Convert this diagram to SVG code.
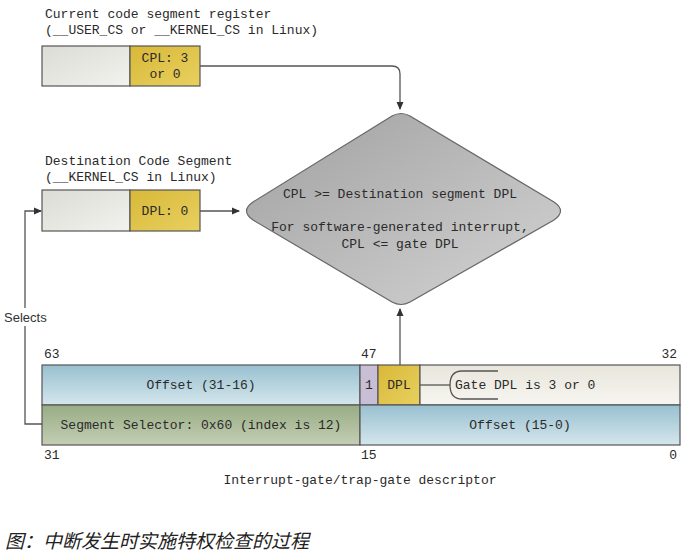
<svg xmlns="http://www.w3.org/2000/svg" width="686" height="560" viewBox="0 0 686 560">
<style>
.t{font-family:"Liberation Mono","DejaVu Sans Mono",monospace;font-size:13px;fill:#2a2a2a}
.c{text-anchor:middle}
.cell{stroke:#555;stroke-width:1.2}
.ln{fill:none;stroke:#555;stroke-width:1.3}
</style>
<defs>
<linearGradient id="gGray" x1="0" y1="0" x2="1" y2="1"><stop offset="0" stop-color="#dcdcd6"/><stop offset="1" stop-color="#f2f2ee"/></linearGradient>
<linearGradient id="gGold" x1="0" y1="0" x2="1" y2="1"><stop offset="0" stop-color="#d8b838"/><stop offset="1" stop-color="#e8d060"/></linearGradient>
<linearGradient id="gBlue" x1="0" y1="0" x2="0" y2="1"><stop offset="0" stop-color="#98c0d0"/><stop offset="1" stop-color="#d4e6ec"/></linearGradient>
<linearGradient id="gGreen" x1="0" y1="0" x2="0" y2="1"><stop offset="0" stop-color="#98ac84"/><stop offset="1" stop-color="#c4ceb4"/></linearGradient>
<linearGradient id="gBeige" x1="0" y1="0" x2="0" y2="1"><stop offset="0" stop-color="#e8e6dc"/><stop offset="1" stop-color="#f6f5f0"/></linearGradient>
<linearGradient id="gDia" x1="0" y1="0" x2="1" y2="1"><stop offset="0" stop-color="#a0a0a0"/><stop offset="1" stop-color="#d4d4d4"/></linearGradient>
<marker id="arr" markerWidth="8" markerHeight="8" refX="7" refY="4" orient="auto" markerUnits="userSpaceOnUse"><path d="M0,0.5 L8,4 L0,7.5 Z" fill="#333"/></marker>
</defs>

<g id="current-cs">
<text class="t" x="45" y="18">Current code segment register</text>
<text class="t" x="45" y="34">(__USER_CS or __KERNEL_CS in Linux)</text>
<rect class="cell" x="42" y="46" width="88" height="40" fill="url(#gGray)"/>
<rect class="cell" x="130" y="46" width="70" height="40" fill="url(#gGold)"/>
<text class="t c" x="165" y="62">CPL: 3</text>
<text class="t c" x="165" y="78">or 0</text>
</g>

<g id="dest-cs">
<text class="t" x="45" y="165">Destination Code Segment</text>
<text class="t" x="45" y="181">(__KERNEL_CS in Linux)</text>
<rect class="cell" x="42" y="190" width="88" height="41" fill="url(#gGray)"/>
<rect class="cell" x="130" y="190" width="70" height="41" fill="url(#gGold)"/>
<text class="t c" x="165" y="215">DPL: 0</text>
</g>

<g id="check">
<path d="M410,116 L554,202 Q567,211 554,220 L410,302 Q401,307 392,302 L253,220 Q240,211 253,202 L392,116 Q401,111 410,116 Z" fill="url(#gDia)" stroke="#666" stroke-width="1.2"/>
<text class="t c" x="400" y="198">CPL &gt;= Destination segment DPL</text>
<text class="t c" x="400" y="231">For software-generated interrupt,</text>
<text class="t c" x="400" y="248">CPL &lt;= gate DPL</text>
</g>

<g id="descriptor">
<rect class="cell" x="42" y="365" width="318" height="40" fill="url(#gBlue)"/>
<rect class="cell" x="360" y="365" width="18" height="40" fill="#c8bed6"/>
<rect class="cell" x="378" y="365" width="42" height="40" fill="url(#gGold)"/>
<rect class="cell" x="420" y="365" width="260" height="40" fill="url(#gBeige)"/>
<rect class="cell" x="42" y="405" width="318" height="40" fill="url(#gGreen)"/>
<rect class="cell" x="360" y="405" width="320" height="40" fill="url(#gBlue)"/>
<text class="t c" x="201" y="389">Offset (31-16)</text>
<text class="t c" x="369" y="389">1</text>
<text class="t c" x="399" y="389">DPL</text>
<text class="t" x="455" y="389">Gate DPL is 3 or 0</text>
<text class="t c" x="201" y="429">Segment Selector: 0x60 (index is 12)</text>
<text class="t c" x="520" y="429">Offset (15-0)</text>
<text class="t" x="44" y="358">63</text>
<text class="t" x="361" y="358">47</text>
<text class="t" x="677" y="358" text-anchor="end">32</text>
<text class="t" x="44" y="459">31</text>
<text class="t" x="361" y="459">15</text>
<text class="t" x="677" y="459" text-anchor="end">0</text>
<text class="t c" x="360" y="484">Interrupt-gate/trap-gate descriptor</text>
</g>

<g id="connectors">
<path class="ln" d="M200,66 H392 Q400,66 400,74 V109" marker-end="url(#arr)"/>
<path class="ln" d="M200,211 H239" marker-end="url(#arr)"/>
<path class="ln" d="M400,365 V309" marker-end="url(#arr)"/>
<path class="ln" d="M42,424 H25 V211 H41" marker-end="url(#arr)"/>
<path class="ln" d="M420,385 H450"/>
<path class="ln" d="M498,371 H462 Q450,371 450,385 Q450,399 462,399 H498"/>
<rect x="2" y="308" width="48" height="18" fill="#fff"/>
<text x="4" y="322" style="font-family:'Liberation Sans',Arial,sans-serif;font-size:13px;fill:#333">Selects</text>
</g>

<text x="5" y="548" style="font-family:'Liberation Sans','Noto Sans CJK SC',sans-serif;font-size:19px;font-style:italic;fill:#222">图：中断发生时实施特权检查的过程</text>
</svg>
